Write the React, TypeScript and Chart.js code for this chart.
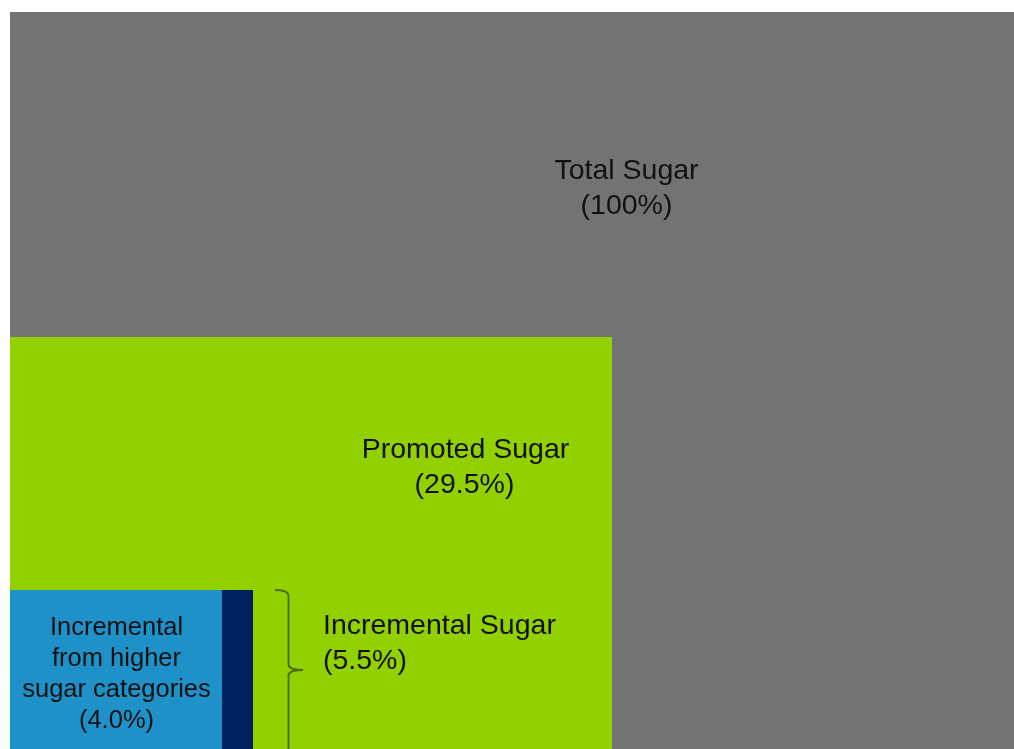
import React, { useEffect, useRef } from "react";
import { Chart, registerables } from "chart.js";

Chart.register(...registerables);

// Nested rectangles (units: chart width 1004, chart height 737)
const rectNames = ["Incremental from higher sugar categories", "Other incremental", "Promoted Sugar", "Total Sugar"];
const rectStart = [0, 212, 0, 0];
const rectEnd = [212, 243, 602, 1004];
const rectHeight = [159, 159, 412, 737];
const rectColors = ["#1E91C9", "#002060", "#92D000", "#737373"];

const labelLines = [
  ["Incremental", "from higher", "sugar categories", "(4.0%)"],
  ["Incremental Sugar", "(5.5%)"],
  ["Promoted Sugar", "(29.5%)"],
  ["Total Sugar", "(100%)"],
];

export default function App() {
  const ref = useRef<HTMLCanvasElement | null>(null);

  useEffect(() => {
    if (!ref.current) return;

    const labelPlugin = {
      id: "labels",
      afterDatasetsDraw(chart: any) {
        const ctx = chart.ctx;
        const xs = chart.scales.x;
        const ys = chart.scales.y;
        const px = (v: number) => xs.getPixelForValue(v);
        const py = (v: number) => ys.getPixelForValue(v);
        ctx.save();
        ctx.fillStyle = "#111111";
        ctx.textBaseline = "alphabetic";

        // Total Sugar
        ctx.font = "28.5px 'Liberation Sans', Arial, sans-serif";
        ctx.textAlign = "center";
        ctx.fillText(labelLines[3][0], px(616.5), py(570));
        ctx.fillText(labelLines[3][1], px(616.5), py(535));
        // Promoted Sugar
        ctx.fillText(labelLines[2][0], px(455.5), py(291));
        ctx.fillText(labelLines[2][1], px(454.5), py(256));
        // Incremental Sugar
        ctx.textAlign = "left";
        ctx.fillText(labelLines[1][0], px(313), py(115));
        ctx.fillText(labelLines[1][1], px(313), py(80));
        // Incremental from higher
        ctx.font = "25.5px 'Liberation Sans', Arial, sans-serif";
        ctx.textAlign = "center";
        const bl = [114, 83, 52, 21];
        labelLines[0].forEach((t, i) => ctx.fillText(t, px(106.5), py(bl[i])));

        // Bracket
        const x0 = px(265), x1 = px(278.5), xt = px(293);
        const yTop = py(159), yMid = py(79), yBot = py(-10);
        ctx.strokeStyle = "#4A6800";
        ctx.lineWidth = 1.8;
        ctx.beginPath();
        ctx.moveTo(x0, yTop);
        ctx.quadraticCurveTo(x1, yTop, x1, yTop + 6);
        ctx.lineTo(x1, yMid - 5);
        ctx.quadraticCurveTo(x1 + 1, yMid, xt, yMid);
        ctx.moveTo(xt, yMid);
        ctx.quadraticCurveTo(x1 + 1, yMid, x1, yMid + 5);
        ctx.lineTo(x1, yBot);
        ctx.stroke();
        ctx.restore();
      },
    };

    const chart = new Chart(ref.current, {
      type: "scatter",
      data: {
        datasets: rectNames.map((name, i) => ({
          label: name,
          data: [
            { x: rectStart[i], y: rectHeight[i] },
            { x: rectEnd[i], y: rectHeight[i] },
          ],
          showLine: true,
          fill: "origin",
          backgroundColor: rectColors[i],
          borderColor: rectColors[i],
          borderWidth: 0,
          pointRadius: 0,
          tension: 0,
        })),
      },
      options: {
        responsive: false,
        animation: false,
        layout: { padding: { left: 10, top: 12, right: 0, bottom: 0 } },
        plugins: {
          legend: { display: false },
          tooltip: { enabled: false },
        },
        scales: {
          x: { type: "linear", min: 0, max: 1004, display: false },
          y: { type: "linear", min: 0, max: 737, display: false },
        },
      },
      plugins: [labelPlugin],
    });
    return () => chart.destroy();
  }, []);

  return (
    <div style={{ position: "absolute", left: 0, top: 0, width: 1014, height: 749, background: "#fff" }}>
      <canvas ref={ref} width={1014} height={749} style={{ display: "block" }} />
    </div>
  );
}
